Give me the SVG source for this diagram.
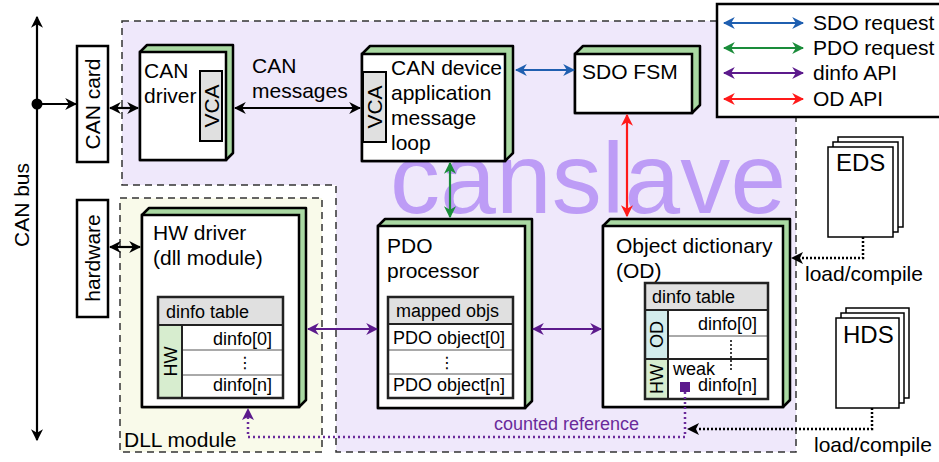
<svg xmlns="http://www.w3.org/2000/svg" width="939" height="462" viewBox="0 0 939 462">
<style>
text{font-family:"Liberation Sans",Arial,Helvetica,sans-serif;fill:#000}
.t21{font-size:21px}
.t18{font-size:18px}
.t24{font-size:24px}
.face{fill:#fff;stroke:#000;stroke-width:2.5}
.depth{fill:#a9d8a2;stroke:#000;stroke-width:2.5;stroke-linejoin:round}
.vca{fill:#e0e0e0;stroke:#000;stroke-width:2}
.tbl{fill:none;stroke:#222;stroke-width:2.5}
.hdr{fill:#e0e0e0}
.hwc{fill:#d7edcf}
.odc{fill:#d3ecec}
.row{stroke:#555;stroke-width:1}
.sep{stroke:#222;stroke-width:2}
.region{stroke:#333;stroke-width:1.5;stroke-dasharray:7 5}
.conn{fill:none;stroke-width:2.2}
.dotk{fill:none;stroke:#000;stroke-width:2.5;stroke-dasharray:2 2}
.dotp{fill:none;stroke:#6a2a9a;stroke-width:2.5;stroke-dasharray:2 3}
.page{fill:#fff;stroke:#000;stroke-width:1.5}
.ell{font-family:"DejaVu Sans",sans-serif;font-size:16px}
</style>
<defs>
<marker id="ak" viewBox="0 0 10 10" refX="9" refY="5" markerWidth="12" markerHeight="13" markerUnits="userSpaceOnUse" orient="auto-start-reverse"><path d="M0,0 L10,5 L0,10 L3,5 Z" fill="#000"/></marker>
<marker id="ab" viewBox="0 0 10 10" refX="9" refY="5" markerWidth="12" markerHeight="12" markerUnits="userSpaceOnUse" orient="auto-start-reverse"><path d="M0,0 L10,5 L0,10 L3,5 Z" fill="#1f5fb0"/></marker>
<marker id="ag" viewBox="0 0 10 10" refX="9" refY="5" markerWidth="12" markerHeight="12" markerUnits="userSpaceOnUse" orient="auto-start-reverse"><path d="M0,0 L10,5 L0,10 L3,5 Z" fill="#1a8c3a"/></marker>
<marker id="ap" viewBox="0 0 10 10" refX="9" refY="5" markerWidth="12" markerHeight="12" markerUnits="userSpaceOnUse" orient="auto-start-reverse"><path d="M0,0 L10,5 L0,10 L3,5 Z" fill="#5c1a8c"/></marker>
<marker id="ar" viewBox="0 0 10 10" refX="9" refY="5" markerWidth="12" markerHeight="12" markerUnits="userSpaceOnUse" orient="auto-start-reverse"><path d="M0,0 L10,5 L0,10 L3,5 Z" fill="#ff1a1a"/></marker>
</defs>

<!-- regions -->
<g id="canslave-region">
<path class="region" d="M122,21 H796 V452 H336 V185 H122 Z" fill="#efe8fb"/>
<text x="390" y="213" textLength="396" style="font-size:100px;fill:#bd9cf6">canslave</text>
</g>
<g id="dll-region">
<rect class="region" x="120" y="198" width="202" height="254" fill="#f9faea"/>
<text class="t21" x="124" y="447">DLL module</text>
</g>

<!-- CAN bus -->
<g id="can-bus">
<line class="conn" x1="37" y1="17" x2="37" y2="440" stroke="#000" marker-start="url(#ak)" marker-end="url(#ak)"/>
<circle cx="37" cy="104" r="5.5" fill="#000"/>
<text class="t21" transform="translate(29,205) rotate(-90)" text-anchor="middle">CAN bus</text>
</g>

<g id="can-card">
<rect x="77" y="46" width="31" height="116" fill="#fff" stroke="#000" stroke-width="2.5"/>
<text class="t21" transform="translate(100,104) rotate(-90)" text-anchor="middle">CAN card</text>
</g>
<g id="hardware">
<rect x="77" y="200" width="31" height="117" fill="#fff" stroke="#000" stroke-width="2.5"/>
<text class="t21" transform="translate(100,258) rotate(-90)" text-anchor="middle">hardware</text>
</g>

<!-- nodes -->
<g id="can-driver">
<polygon class="depth" points="140,52 147,45 233,45 233,153 226,160 140,160"/>
<rect class="face" x="140" y="52" width="86" height="108"/>
<rect class="vca" x="200" y="71" width="22" height="70"/>
<text class="t21" transform="translate(218.5,106) rotate(-90)" text-anchor="middle">VCA</text>
<text class="t21" x="144" y="78">CAN</text>
<text class="t21" x="144" y="103">driver</text>
</g>

<g id="can-device">
<polygon class="depth" points="362,54 370,46 513,46 513,153 505,161 362,161"/>
<rect class="face" x="362" y="54" width="143" height="107"/>
<rect class="vca" x="363" y="72" width="23" height="70"/>
<text class="t21" transform="translate(382,107) rotate(-90)" text-anchor="middle">VCA</text>
<text class="t21" x="391" y="75">CAN device</text>
<text class="t21" x="391" y="100">application</text>
<text class="t21" x="391" y="125">message</text>
<text class="t21" x="391" y="150">loop</text>
</g>

<g id="sdo-fsm">
<polygon class="depth" points="575,54 583,46 700,46 700,105 692,113 575,113"/>
<rect class="face" x="575" y="54" width="117" height="59"/>
<text class="t21" x="582" y="79">SDO FSM</text>
</g>

<g id="hw-driver">
<polygon class="depth" points="142,215 149,208 306,208 306,400 299,407 142,407"/>
<rect class="face" x="142" y="215" width="157" height="192"/>
<text class="t21" x="153" y="240">HW driver</text>
<text class="t21" x="153" y="265">(dll module)</text>
<rect class="hdr" x="158" y="297" width="125" height="28"/>
<rect class="hwc" x="158" y="325" width="24" height="73"/>
<rect x="182" y="325" width="101" height="73" fill="#fff"/>
<line class="row" x1="182" y1="350" x2="283" y2="350"/>
<line class="row" x1="182" y1="375" x2="283" y2="375"/>
<line class="sep" x1="158" y1="325" x2="283" y2="325"/>
<line class="sep" x1="182" y1="325" x2="182" y2="398"/>
<rect class="tbl" x="158" y="297" width="125" height="101"/>
<text class="t18" x="166" y="318">dinfo table</text>
<text class="t18" transform="translate(176.5,361.5) rotate(-90)" text-anchor="middle">HW</text>
<text class="t18" x="272" y="345" text-anchor="end">dinfo[0]</text>
<text class="ell" x="245" y="368" text-anchor="middle">⋮</text>
<text class="t18" x="272" y="391" text-anchor="end">dinfo[n]</text>
</g>

<g id="pdo-processor">
<polygon class="depth" points="378,226 385,219 532,219 532,401 525,408 378,408"/>
<rect class="face" x="378" y="226" width="147" height="182"/>
<text class="t21" x="387" y="253">PDO</text>
<text class="t21" x="387" y="278">processor</text>
<rect class="hdr" x="388" y="297" width="125" height="27"/>
<rect x="388" y="324" width="125" height="74" fill="#fff"/>
<line class="row" x1="388" y1="350" x2="513" y2="350"/>
<line class="row" x1="388" y1="374" x2="513" y2="374"/>
<line class="sep" x1="388" y1="324" x2="513" y2="324"/>
<rect class="tbl" x="388" y="297" width="125" height="101"/>
<text class="t18" x="396" y="317">mapped objs</text>
<text class="t18" x="393" y="344">PDO object[0]</text>
<text class="ell" x="447" y="368" text-anchor="middle">⋮</text>
<text class="t18" x="393" y="391">PDO object[n]</text>
</g>

<g id="object-dictionary">
<polygon class="depth" points="603,226 610,219 790,219 790,400 783,407 603,407"/>
<rect class="face" x="603" y="226" width="180" height="181"/>
<text class="t21" x="616" y="253">Object dictionary</text>
<text class="t21" x="616" y="278">(OD)</text>
<rect class="hdr" x="645" y="283" width="123" height="27"/>
<rect class="odc" x="645" y="310" width="23" height="49"/>
<rect class="hwc" x="645" y="359" width="23" height="40"/>
<rect x="668" y="310" width="100" height="89" fill="#fff"/>
<line class="row" x1="668" y1="336" x2="768" y2="336"/>
<line class="sep" x1="645" y1="310" x2="768" y2="310"/>
<line class="sep" x1="645" y1="359" x2="768" y2="359"/>
<line class="sep" x1="668" y1="310" x2="668" y2="399"/>
<rect class="tbl" x="645" y="283" width="123" height="116"/>
<text class="t18" x="652" y="303">dinfo table</text>
<text class="t18" transform="translate(663,334.5) rotate(-90)" text-anchor="middle">OD</text>
<text class="t18" transform="translate(663,379) rotate(-90)" text-anchor="middle">HW</text>
<text class="t18" x="757" y="330" text-anchor="end">dinfo[0]</text>
<line x1="731" y1="340" x2="731" y2="370" stroke="#000" stroke-width="1.5" stroke-dasharray="2 2"/>
<text class="t18" x="673" y="375">weak</text>
<rect x="680" y="382" width="10" height="10" fill="#5c1a8c"/>
<text class="t18" x="757" y="391" text-anchor="end">dinfo[n]</text>
</g>

<g id="eds">
<rect class="page" x="838" y="137" width="65" height="90"/>
<rect class="page" x="833" y="142" width="65" height="90"/>
<rect class="page" x="828" y="147" width="65" height="90"/>
<text class="t24" x="836" y="171">EDS</text>
</g>
<g id="hds">
<rect class="page" x="846" y="308" width="63" height="90"/>
<rect class="page" x="841" y="313" width="63" height="90"/>
<rect class="page" x="836" y="318" width="63" height="90"/>
<text class="t24" x="843" y="343">HDS</text>
</g>

<g id="legend">
<rect x="717" y="4" width="224" height="113" fill="#fff" stroke="#000" stroke-width="2.5"/>
<line class="conn" x1="724" y1="23" x2="803" y2="23" stroke="#1f5fb0" marker-start="url(#ab)" marker-end="url(#ab)"/>
<line class="conn" x1="724" y1="48" x2="803" y2="48" stroke="#1a8c3a" marker-start="url(#ag)" marker-end="url(#ag)"/>
<line class="conn" x1="724" y1="73" x2="803" y2="73" stroke="#5c1a8c" marker-start="url(#ap)" marker-end="url(#ap)"/>
<line class="conn" x1="724" y1="99" x2="803" y2="99" stroke="#ff1a1a" marker-start="url(#ar)" marker-end="url(#ar)"/>
<text class="t21" x="813" y="30">SDO request</text>
<text class="t21" x="813" y="55">PDO request</text>
<text class="t21" x="813" y="80">dinfo API</text>
<text class="t21" x="813" y="106">OD API</text>
</g>

<!-- connectors -->
<g id="connectors">
<line class="conn" x1="42" y1="104" x2="76" y2="104" stroke="#000" marker-end="url(#ak)"/>
<line class="conn" x1="110" y1="108" x2="138" y2="108" stroke="#000" marker-start="url(#ak)" marker-end="url(#ak)"/>
<line class="conn" x1="235" y1="108" x2="360" y2="108" stroke="#000" marker-start="url(#ak)" marker-end="url(#ak)"/>
<text class="t21" x="252" y="73">CAN</text>
<text class="t21" x="252" y="98">messages</text>
<line class="conn" x1="110" y1="247" x2="140" y2="247" stroke="#000" marker-start="url(#ak)" marker-end="url(#ak)"/>
<line class="conn" x1="516" y1="70" x2="574" y2="70" stroke="#1f5fb0" marker-start="url(#ab)" marker-end="url(#ab)"/>
<line class="conn" x1="450" y1="163" x2="450" y2="217" stroke="#1a8c3a" marker-start="url(#ag)" marker-end="url(#ag)"/>
<line class="conn" x1="627" y1="115" x2="627" y2="216" stroke="#ff1a1a" marker-start="url(#ar)" marker-end="url(#ar)"/>
<line class="conn" x1="308" y1="329" x2="377" y2="329" stroke="#5c1a8c" marker-start="url(#ap)" marker-end="url(#ap)"/>
<line class="conn" x1="533" y1="329" x2="601" y2="329" stroke="#5c1a8c" marker-start="url(#ap)" marker-end="url(#ap)"/>
<path class="dotp" d="M685,392 V437 H248 V410"/>
<path d="M242,420 L248,408 L254,420 L248,417 Z" fill="#5c1a8c"/>
<text class="t18" x="494" y="430" style="fill:#6a2a9a">counted reference</text>
<path class="dotk" d="M863,237 V258 H801"/>
<path d="M803,252 L791,258 L803,264 L800,258 Z" fill="#000"/>
<text class="t21" x="805" y="281">load/compile</text>
<path class="dotk" d="M872,408 V429 H697"/>
<path d="M699,423 L687,429 L699,435 L696,429 Z" fill="#000"/>
<text class="t21" x="814" y="452">load/compile</text>
</g>
</svg>
